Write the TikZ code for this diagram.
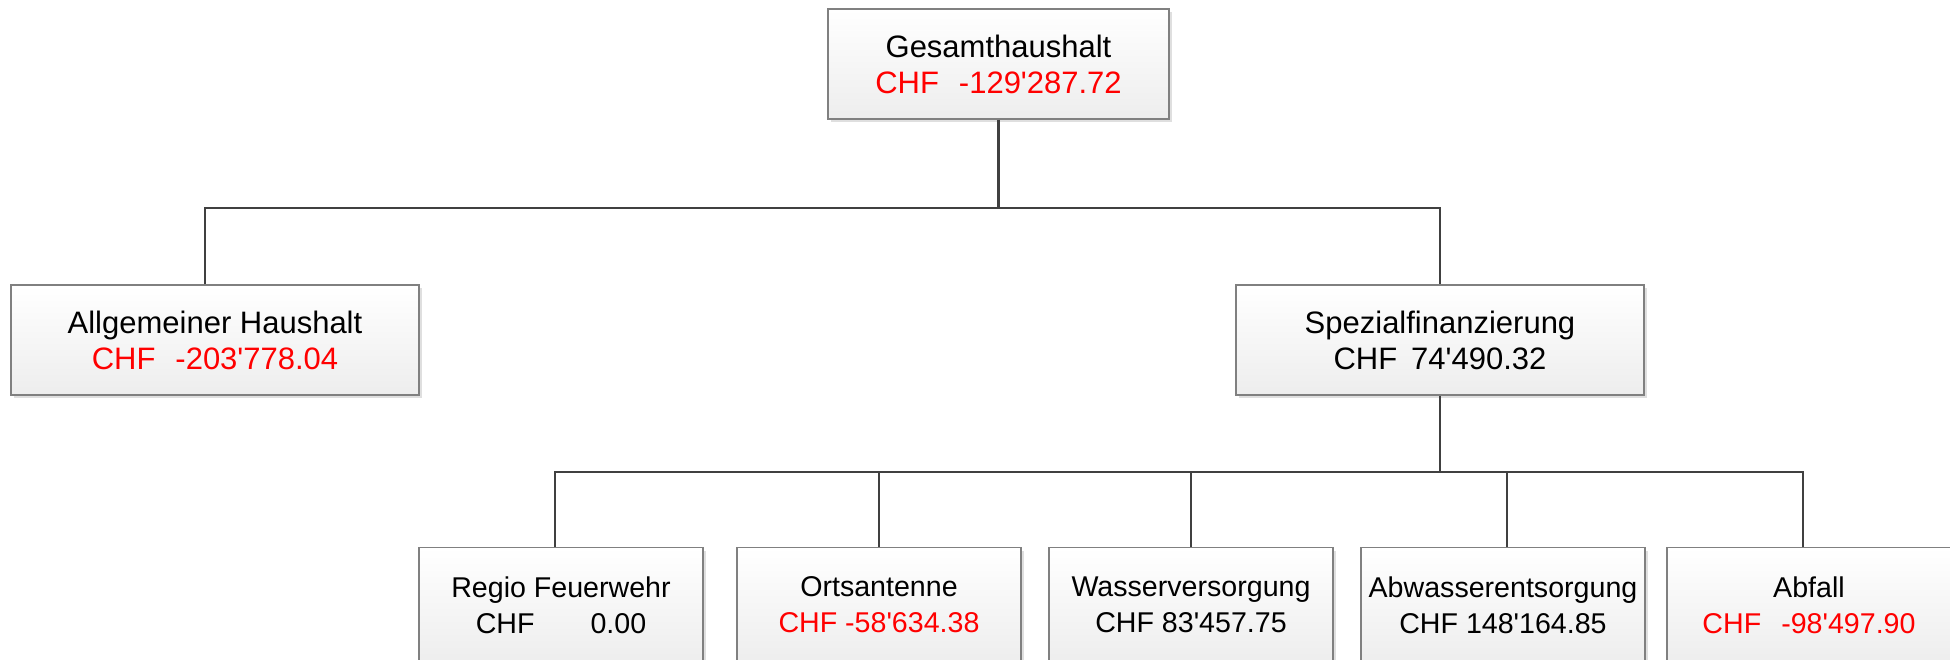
\documentclass[tikz,border=0pt]{standalone}
\usepackage{fontspec}
\setmainfont{Liberation Sans}[Ligatures=TeXOff]
\usetikzlibrary{shadows}

\begin{document}
\begin{tikzpicture}[x=0.5pt, y=-0.5pt]
\tikzset{konto/.style={draw=black!50, line width=0.6pt, shading=axis, top color=white, bottom color=black!7,
    drop shadow={opacity=0.25, shadow xshift=1.5pt, shadow yshift=-1.5pt},
    minimum width=204pt, minimum height=55pt, inner sep=0pt, align=center,
    font=\fontsize{15.5}{18}\selectfont},
  kleinkonto/.style={konto, minimum width=142pt, minimum height=57.5pt, font=\fontsize{14.3}{18}\selectfont},
  linie/.style={draw=black!75, line width=1.1pt}}
\clip (0, 0) rectangle (1950, 659);
\node[konto, minimum width=170.5pt] (K0) at (998.5, 64) {Gesamthaushalt\\\textcolor{red}{CHF\hspace{10pt}-129'287.72}};
\node[konto] (K1) at (215, 340) {Allgemeiner Haushalt\\\textcolor{red}{CHF\hspace{10pt}-203'778.04}};
\node[konto] (K2) at (1440, 340) {Spezialfinanzierung\\CHF\hspace{7pt}74'490.32};
\node[kleinkonto] (K3) at (561, 605) {Regio Feuerwehr\\CHF\hspace{28pt}0.00};
\node[kleinkonto] (K4) at (879, 605) {Ortsantenne\\\textcolor{red}{CHF -58'634.38}};
\node[kleinkonto] (K5) at (1191, 605) {Wasserversorgung\\CHF 83'457.75};
\node[kleinkonto] (K6) at (1503, 605) {Abwasserentsorgung\\CHF 148'164.85};
\node[kleinkonto] (K7) at (1809, 605) {Abfall\\\textcolor{red}{CHF\hspace{10pt}-98'497.90}};
\coordinate (J1) at (998.5, 208);
\coordinate (J2) at (1440, 472);
\draw[linie] (K0.south) -- (J1);
\draw[linie] ([xshift=-5pt]K1.north) |- (J1) -| (K2.north);
\draw[linie] (K2.south) -- (J2);
\draw[linie] ([xshift=-3pt]K3.north) |- (J2) -| ([xshift=-3pt]K7.north);
\draw[linie] (K4.north) -- (K4.north |- J2);
\draw[linie] (K5.north) -- (K5.north |- J2);
\draw[linie] ([xshift=2pt]K6.north) -- ([xshift=2pt]K6.north |- J2);
\end{tikzpicture}
\end{document}
